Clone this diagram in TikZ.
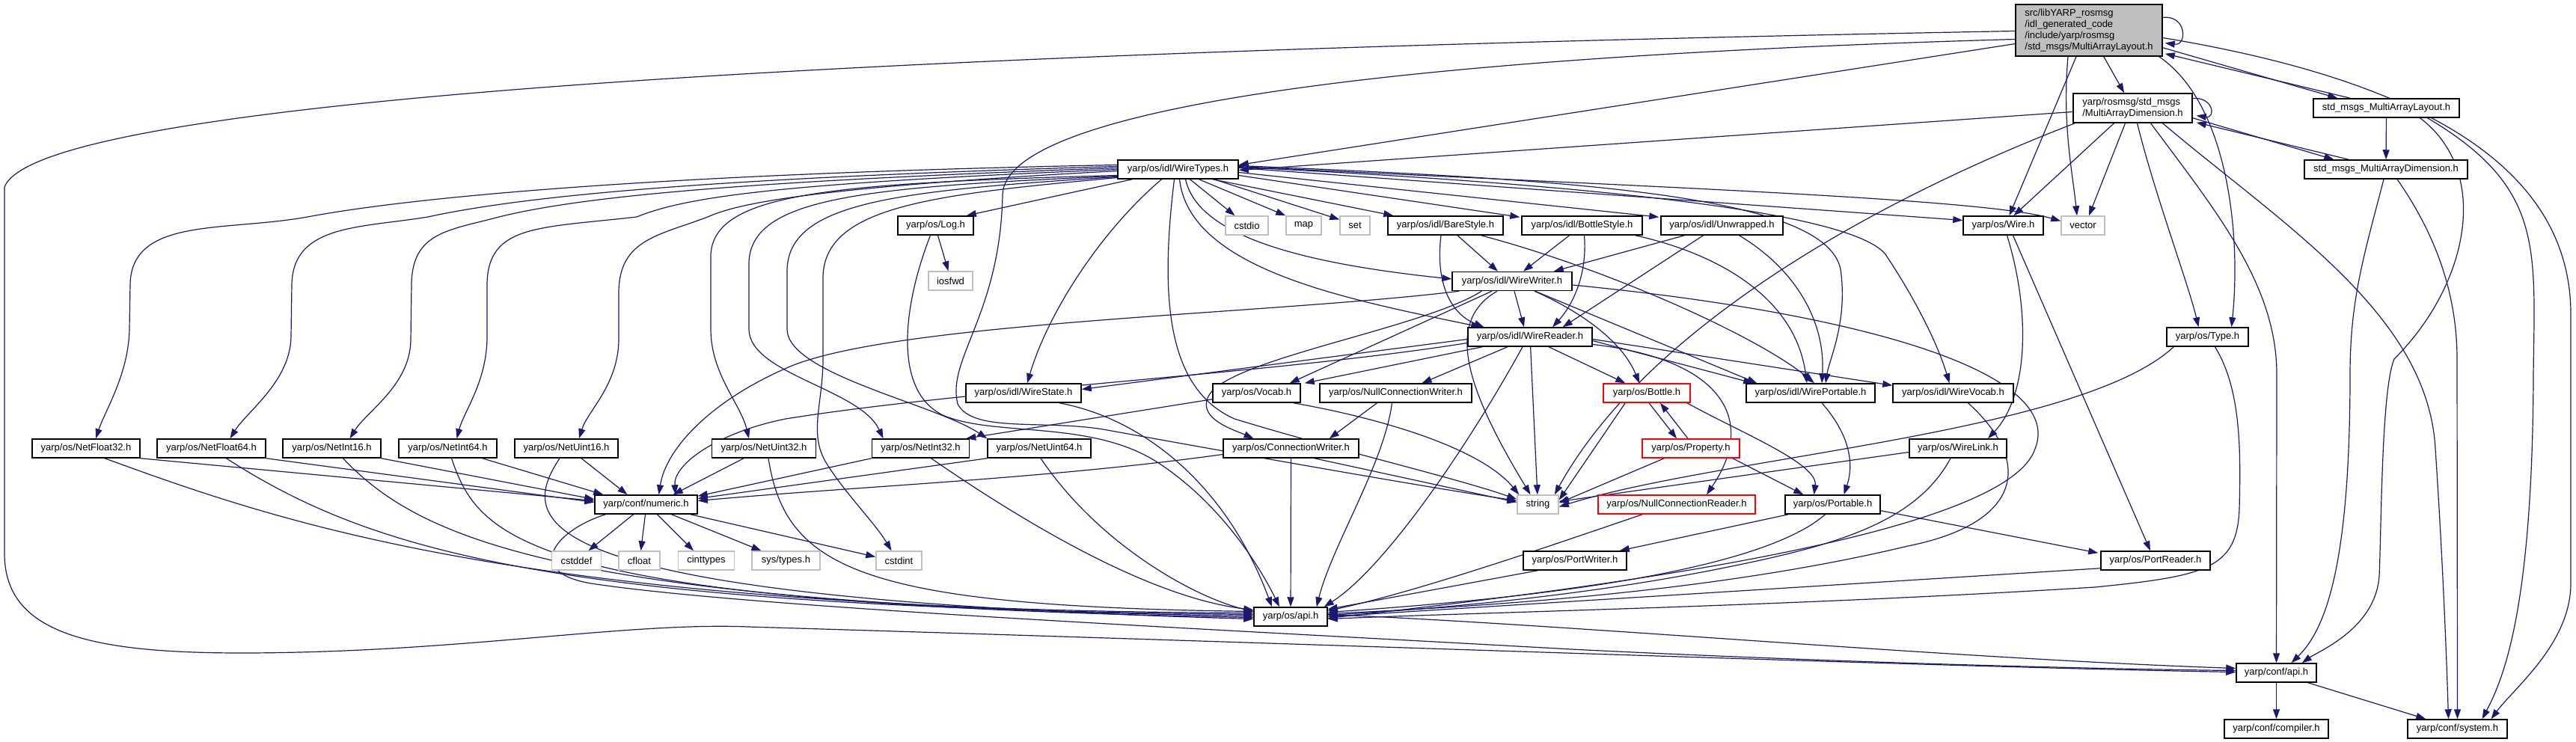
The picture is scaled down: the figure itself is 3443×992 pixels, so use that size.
\documentclass[tikz,border=0pt]{standalone}
\usepackage{fontspec}
\setmainfont{Liberation Sans}
\usetikzlibrary{arrows.meta,calc}
\definecolor{edgec}{HTML}{191970}
\definecolor{sysg}{HTML}{BFBFBF}
\definecolor{mainfill}{HTML}{BFBFBF}
\pgfdeclarelayer{bg}
\pgfsetlayers{bg,main}
\begin{document}
\begin{tikzpicture}[x=1pt,y=-1pt,
  box/.style={draw=black,line width=1.5pt,fill=white,minimum height=25pt,inner xsep=2pt,inner ysep=2pt,font=\fontsize{13pt}{15pt}\selectfont},
  sysbox/.style={box,draw=sysg},
  redbox/.style={box,draw=red},
  e/.style={draw=edgec,line width=1.2pt,-{Triangle[length=13pt,width=9pt]}}]
\useasboundingbox (0,0) rectangle (3443,992);
% ---------------- nodes ----------------
\node[box,fill=mainfill,minimum width=196pt,minimum height=69pt,align=left] (main) at (2792,40.5) {src/libYARP\_rosmsg\\/idl\_generated\_code\\/include/yarp/rosmsg\\/std\_msgs/MultiArrayLayout.h};
\node[box,minimum width=159pt,minimum height=39pt,align=left] (MAD) at (2850.5,144.5) {yarp/rosmsg/std\_msgs\\/MultiArrayDimension.h};
\node[box,minimum width=195pt] (SML) at (3189.5,144.5) {std\_msgs\_MultiArrayLayout.h};
\node[box,minimum width=218pt] (SMD) at (3189,226.5) {std\_msgs\_MultiArrayDimension.h};
\node[box,minimum width=161pt] (WireTypes) at (1574.5,226.5) {yarp/os/idl/WireTypes.h};
\node[box,minimum width=101pt] (Log) at (1250.5,301.5) {yarp/os/Log.h};
\node[sysbox,minimum width=57pt] (cstdio) at (1666.5,301.5) {cstdio};
\node[sysbox,minimum width=47pt] (map) at (1742.5,301.5) {map};
\node[sysbox,minimum width=40pt] (set) at (1811,301.5) {set};
\node[box,minimum width=154pt] (BareStyle) at (1932,301.5) {yarp/os/idl/BareStyle.h};
\node[box,minimum width=161pt] (BottleStyle) at (2114.5,301.5) {yarp/os/idl/BottleStyle.h};
\node[box,minimum width=163pt] (Unwrapped) at (2301.5,301.5) {yarp/os/idl/Unwrapped.h};
\node[box,minimum width=107pt] (Wire) at (2677.5,301.5) {yarp/os/Wire.h};
\node[sysbox,minimum width=58pt] (vector) at (2784,301.5) {vector};
\node[sysbox,minimum width=59pt] (iosfwd) at (1270.5,375.5) {iosfwd};
\node[box,minimum width=160pt] (WireWriter) at (2021,376) {yarp/os/idl/WireWriter.h};
\node[box,minimum width=166pt] (WireReader) at (2045,450.5) {yarp/os/idl/WireReader.h};
\node[box,minimum width=109pt] (Type) at (2950.5,450.5) {yarp/os/Type.h};
\node[box,minimum width=154pt] (WireState) at (1368,525.5) {yarp/os/idl/WireState.h};
\node[box,minimum width=117pt] (Vocab) at (1679.5,525.5) {yarp/os/Vocab.h};
\node[box,minimum width=203pt] (NCW) at (1865.5,525.5) {yarp/os/NullConnectionWriter.h};
\node[redbox,minimum width=116pt] (Bottle) at (2201,525.5) {yarp/os/Bottle.h};
\node[box,minimum width=172pt] (WirePortable) at (2420,525.5) {yarp/os/idl/WirePortable.h};
\node[box,minimum width=161pt] (WireVocab) at (2610.5,525.5) {yarp/os/idl/WireVocab.h};
\node[box,minimum width=144pt] (NetFloat32) at (115,599.5) {yarp/os/NetFloat32.h};
\node[box,minimum width=145pt] (NetFloat64) at (282.5,599.5) {yarp/os/NetFloat64.h};
\node[box,minimum width=131pt] (NetInt16) at (443.5,599.5) {yarp/os/NetInt16.h};
\node[box,minimum width=131pt] (NetInt64) at (598.5,599.5) {yarp/os/NetInt64.h};
\node[box,minimum width=138pt] (NetUint16) at (757,599.5) {yarp/os/NetUint16.h};
\node[box,minimum width=139pt] (NetUint32) at (1021,599.5) {yarp/os/NetUint32.h};
\node[box,minimum width=130pt] (NetInt32) at (1230.5,599.5) {yarp/os/NetInt32.h};
\node[box,minimum width=138pt] (NetUint64) at (1389,599.5) {yarp/os/NetUint64.h};
\node[box,minimum width=181pt] (ConnWriter) at (1725.5,599.5) {yarp/os/ConnectionWriter.h};
\node[redbox,minimum width=130pt] (Property) at (2260,599.5) {yarp/os/Property.h};
\node[box,minimum width=130pt] (WireLink) at (2617,599.5) {yarp/os/WireLink.h};
\node[box,minimum width=137pt] (numeric) at (863.5,674.5) {yarp/conf/numeric.h};
\node[sysbox,minimum width=55pt] (string) at (2055.5,674.5) {string};
\node[redbox,minimum width=210pt] (NCR) at (2241,674.5) {yarp/os/NullConnectionReader.h};
\node[box,minimum width=127pt] (Portable) at (2449.5,674.5) {yarp/os/Portable.h};
\node[sysbox,minimum width=66pt] (cstddef) at (770.5,749.5) {cstddef};
\node[sysbox,minimum width=55pt] (cfloat) at (854.5,749.5) {cfloat};
\node[sysbox,minimum width=75pt] (cinttypes) at (944,749.5) {cinttypes};
\node[sysbox,minimum width=91pt] (systypes) at (1050.5,749.5) {sys/types.h};
\node[sysbox,minimum width=61pt] (cstdint) at (1201.5,749.5) {cstdint};
\node[box,minimum width=138pt] (PortWriter) at (2105,749.5) {yarp/os/PortWriter.h};
\node[box,minimum width=146pt] (PortReader) at (2881,749.5) {yarp/os/PortReader.h};
\node[box,minimum width=98pt] (osapi) at (1725,824.5) {yarp/os/api.h};
\node[box,minimum width=107pt] (confapi) at (3042.5,899.5) {yarp/conf/api.h};
\node[box,minimum width=139pt] (compiler) at (3042.5,974.5) {yarp/conf/compiler.h};
\node[box,minimum width=133pt] (system) at (3284.5,974.5) {yarp/conf/system.h};
% ---------------- edges ----------------
\begin{pgfonlayer}{bg}
\fill[white] (0,0) rectangle (3443,992);
% main
\draw[e] ($(main.east)+(0,-17)$) .. controls +(32,-4) and +(30,4) .. ($(main.east)+(3,17)$);
\draw[e] (main) -- (MAD);
\draw[e] ($(main.west)+(0,18)$) -- ($(WireTypes.east)+(0,-6)$);
\draw[e] ($(main.south)+(-17,0)$) -- ($(Wire.north)+(8,0)$);
\draw[e] ($(main.south)+(-28,0)$) .. controls (2756,165) and (2770,230) .. ($(vector.north)+(-8,0)$);
\draw[e] ($(main.south east)+(-5,0)$) .. controls (2980,140) and (2995,320) .. ($(Type.north)+(32,0)$);
\draw[e] ($(main.south east)+(0,-12)$) -- ($(SML.north west)+(33,0)$);
\draw[e] ($(SML.north west)+(50,0)$) -- ($(main.south east)+(3,-4)$);
\draw[e] ($(main.east)+(0,10)$) .. controls (3250,110) and (3436,230) .. (3436,420) -- (3436,780) .. controls (3436,860) and (3360,920) .. ($(system.north)+(45,0)$);
\draw[e] ($(main.west)+(0,1)$) .. controls (1600,62) and (60,110) .. (6,250) -- (6,740) .. controls (6,860) and (150,878) .. (400,872) .. controls (650,866) and (850,832) .. (1000,838) .. controls (1800,862) and (2600,892) .. ($(confapi.west)+(0,-1)$);
\draw[e] ($(main.west)+(0,12)$) .. controls (1900,75) and (1345,140) .. (1340,260) .. controls (1337,420) and (1265,480) .. (1280,540) .. controls (1300,580) and (1400,560) .. (1480,575) .. controls (1700,615) and (1900,650) .. ($(string.west)+(0,-5)$);
% MultiArrayDimension
\draw[e] ($(MAD.east)+(0,-13)$) .. controls +(28,-2) and +(26,4) .. ($(MAD.east)+(5,10)$);
\draw[e] ($(MAD.west)+(0,5)$) -- ($(WireTypes.east)+(0,1)$);
\draw[e] ($(MAD.south)+(-25,0)$) -- ($(Wire.north)+(14,0)$);
\draw[e] ($(MAD.south)+(-10,0)$) -- ($(vector.north)+(8,0)$);
\draw[e] ($(MAD.south)+(6,0)$) .. controls (2880,260) and (2925,380) .. ($(Type.north)+(-12,0)$);
\draw[e] ($(MAD.south)+(24,0)$) .. controls (2960,280) and (3043,380) .. (3043,500) -- (confapi);
\draw[e] ($(MAD.south)+(40,0)$) .. controls (3050,300) and (3245,420) .. (3255,600) .. controls (3265,750) and (3270,880) .. ($(system.north)+(-12,0)$);
\draw[e] ($(MAD.south east)+(0,-7)$) -- ($(SMD.north west)+(40,0)$);
\draw[e] ($(SMD.north west)+(60,0)$) -- ($(MAD.south east)+(5,-1)$);
\draw[e] ($(MAD.south west)+(3,0)$) .. controls (2500,270) and (2200,440) .. ($(string.north east)+(-6,0)$);
% std_msgs_*
\draw[e] (SML) -- (SMD);
\draw[e] ($(SML.south)+(45,0)$) .. controls (3330,230) and (3300,380) .. (3200,480) .. controls (3183,520) and (3183,700) .. (3180,770) .. controls (3175,840) and (3100,870) .. ($(confapi.north east)+(-20,0)$);
\draw[e] ($(SML.south)+(55,0)$) .. controls (3400,250) and (3388,330) .. (3386,500) .. controls (3385,800) and (3350,900) .. ($(system.north)+(33,0)$);
\draw[e] ($(SMD.south)+(-3,0)$) .. controls (3160,340) and (3141,400) .. (3141,500) .. controls (3141,750) and (3110,840) .. ($(confapi.north)+(20,0)$);
\draw[e] ($(SMD.south)+(15,0)$) .. controls (3260,320) and (3284,400) .. (3284,480) -- (system);
% WireTypes
\draw[e] ($(WireTypes.west)+(0,-6)$) .. controls (900,232) and (560,262) .. (411,290) .. controls (300,310) and (176,290) .. (174,380) -- (173,440) .. controls (172,500) and (140,550) .. ($(NetFloat32.north)+(13,0)$);
\draw[e] ($(WireTypes.west)+(0,-4)$) .. controls (950,238) and (700,262) .. (572,290) .. controls (480,305) and (392,300) .. (390,380) -- (389,450) .. controls (388,510) and (330,550) .. ($(NetFloat64.north)+(25,0)$);
\draw[e] ($(WireTypes.west)+(0,-2)$) .. controls (1000,242) and (780,262) .. (667,290) .. controls (600,308) and (551,310) .. (550,380) -- (549,455) .. controls (548,515) and (490,550) .. ($(NetInt16.north)+(24,0)$);
\draw[e] ($(WireTypes.west)+(0,0)$) .. controls (1050,245) and (920,262) .. (851,290) .. controls (720,305) and (652,300) .. (651,380) -- (651,450) .. controls (651,510) and (620,550) .. ($(NetInt64.north)+(12,0)$);
\draw[e] ($(WireTypes.west)+(0,2)$) .. controls (1100,250) and (990,270) .. (946,290) .. controls (880,315) and (828,320) .. (827,390) -- (827,455) .. controls (826,515) and (785,550) .. ($(NetUint16.north)+(17,0)$);
\draw[e] ($(WireTypes.west)+(0,8)$) .. controls (1100,245) and (955,260) .. (950,340) -- (950,440) .. controls (950,500) and (990,540) .. ($(NetUint32.north)+(-20,0)$);
\draw[e] ($(WireTypes.west)+(0,9)$) .. controls (1150,250) and (1005,265) .. (1001,350) -- (1001,440) .. controls (1001,500) and (1150,520) .. ($(NetInt32.north)+(-50,0)$);
\draw[e] ($(WireTypes.west)+(0,10)$) .. controls (1200,255) and (1055,270) .. (1052,360) -- (1052,440) .. controls (1052,500) and (1250,540) .. (NetUint64.north west);
\draw[e] ($(WireTypes.west)+(0,11)$) .. controls (1250,260) and (1102,275) .. (1100,370) -- (1100,480) .. controls (1100,540) and (1080,580) .. (1105,620) .. controls (1130,660) and (1170,700) .. ($(cstdint.north)+(-10,0)$);
\draw[e] ($(WireTypes.south west)+(20,0)$) -- ($(Log.north east)+(-10,0)$);
\draw[e] ($(WireTypes.south)+(16,0)$) -- ($(cstdio.north)+(-16,0)$);
\draw[e] ($(WireTypes.south)+(28,0)$) -- (map.north west);
\draw[e] ($(WireTypes.south)+(48,0)$) -- ($(set.west)+(0,-8)$);
\draw[e] ($(WireTypes.south east)+(-35,0)$) -- ($(BareStyle.north west)+(8,0)$);
\draw[e] ($(WireTypes.east)+(0,8)$) -- ($(BottleStyle.north west)+(-2,2)$);
\draw[e] ($(WireTypes.east)+(0,4)$) -- ($(Unwrapped.north west)+(-2,2)$);
\draw[e] ($(WireTypes.east)+(0,-2)$) -- ($(Wire.west)+(0,-7)$);
\draw[e] ($(WireTypes.east)+(0,-4)$) .. controls (2200,250) and (2650,265) .. ($(vector.west)+(0,-6)$);
\draw[e] ($(WireTypes.south)+(10,0)$) .. controls (1600,310) and (1720,350) .. ($(WireWriter.west)+(0,-3)$);
\draw[e] ($(WireTypes.south)+(2,0)$) .. controls (1590,360) and (1800,400) .. ($(WireReader.north west)+(18,0)$);
\draw[e] ($(WireTypes.south)+(-22,0)$) .. controls (1470,310) and (1400,420) .. ($(WireState.north)+(5,0)$);
\draw[e] ($(WireTypes.south)+(-5,0)$) .. controls (1550,400) and (1560,520) .. (1650,560) .. controls (1780,600) and (1950,640) .. ($(string.west)+(0,-7)$);
\draw[e] ($(WireTypes.east)+(0,-5)$) .. controls (2100,240) and (2440,260) .. (2460,360) .. controls (2470,430) and (2445,480) .. ($(WirePortable.north)+(20,0)$);
\draw[e] ($(WireTypes.east)+(0,-3)$) .. controls (2200,250) and (2480,290) .. (2520,340) .. controls (2560,400) and (2590,460) .. ($(WireVocab.north)+(-5,0)$);
% Log
\draw[e] ($(Log.south)+(3,0)$) -- ($(iosfwd.north)+(-3,0)$);
\draw[e] ($(Log.south)+(-7,0)$) .. controls (1210,400) and (1190,520) .. (1260,555) .. controls (1330,585) and (1460,560) .. (1550,620) .. controls (1640,680) and (1690,770) .. ($(osapi.north)+(-15,0)$);
% styles
\draw[e] ($(BareStyle.south)+(16,0)$) -- ($(WireWriter.north)+(-19,0)$);
\draw[e] ($(BareStyle.south)+(-6,0)$) .. controls (1918,380) and (1940,420) .. ($(WireReader.north west)+(22,0)$);
\draw[e] ($(BareStyle.south east)+(-30,0)$) .. controls (2150,360) and (2350,450) .. ($(WirePortable.north)+(5,0)$);
\draw[e] ($(BottleStyle.south)+(-17,0)$) -- ($(WireWriter.north)+(15,0)$);
\draw[e] ($(BottleStyle.south)+(3,0)$) .. controls (2122,370) and (2100,410) .. ($(WireReader.north)+(30,0)$);
\draw[e] ($(BottleStyle.south east)+(-10,0)$) .. controls (2300,340) and (2400,400) .. ($(WirePortable.north)+(-5,0)$);
\draw[e] ($(Unwrapped.south)+(-50,0)$) -- ($(WireWriter.north east)+(-25,0)$);
\draw[e] ($(Unwrapped.south)+(-25,0)$) -- ($(WireReader.north east)+(-40,0)$);
\draw[e] ($(Unwrapped.south)+(23,0)$) .. controls (2400,360) and (2440,430) .. ($(WirePortable.north)+(15,0)$);
% WireWriter
\draw[e] ($(WireWriter.south)+(3,0)$) -- ($(WireReader.north)+(-8,0)$);
\draw[e] ($(WireWriter.south west)+(10,0)$) .. controls (1700,420) and (1200,430) .. (1056,490) .. controls (950,535) and (890,600) .. ($(numeric.north)+(17,0)$);
\draw[e] ($(WireWriter.south)+(-27,0)$) -- ($(Vocab.north east)+(-15,0)$);
\draw[e] ($(WireWriter.south)+(-20,0)$) .. controls (1930,430) and (1960,520) .. ($(string.north)+(-10,0)$);
\draw[e] ($(WireWriter.south west)+(40,0)$) .. controls (1900,440) and (1640,480) .. (1615,530) .. controls (1600,560) and (1650,575) .. ($(ConnWriter.north)+(-50,0)$);
\draw[e] ($(WireWriter.south east)+(-50,0)$) -- ($(WirePortable.north west)+(15,0)$);
\draw[e] ($(WireWriter.south)+(30,0)$) .. controls (2120,420) and (2170,460) .. ($(Bottle.north)+(-10,0)$);
\draw[e] ($(WireWriter.east)+(0,5)$) .. controls (2500,420) and (2760,500) .. (2720,600) .. controls (2680,720) and (2100,790) .. ($(osapi.east)+(0,2)$);
% WireReader
\draw[e] ($(WireReader.west)+(0,3)$) -- ($(WireState.east)+(0,-5)$);
\draw[e] ($(WireReader.south west)+(20,0)$) -- ($(Vocab.north east)+(5,0)$);
\draw[e] ($(WireReader.south)+(-30,0)$) -- ($(NCW.north)+(35,0)$);
\draw[e] ($(WireReader.south)+(25,0)$) -- ($(Bottle.north west)+(30,0)$);
\draw[e] ($(WireReader.east)+(0,5)$) -- ($(WirePortable.north west)+(10,0)$);
\draw[e] ($(WireReader.east)+(0,3)$) -- ($(WireVocab.north west)+(0,3)$);
\draw[e] (WireReader) -- (string);
\draw[e] ($(WireReader.west)+(0,8)$) .. controls (1700,500) and (1300,520) .. (1050,560) .. controls (960,578) and (900,620) .. ($(numeric.north east)+(-30,0)$);
\draw[e] ($(WireReader.south)+(-10,0)$) .. controls (1960,600) and (1850,760) .. ($(osapi.north east)+(-5,0)$);
\draw[e] ($(WireReader.east)+(0,10)$) .. controls (2300,480) and (2350,560) .. ($(NCR.north)+(40,0)$);
% middle
\draw[e] ($(WireState.south east)+(-30,0)$) .. controls (1530,560) and (1640,650) .. ($(osapi.north)+(-25,0)$);
\draw[e] ($(Vocab.south west)+(0,-5)$) -- ($(NetInt32.north east)+(-5,0)$);
\draw[e] ($(Vocab.south east)+(-10,0)$) .. controls (1850,560) and (1980,600) .. ($(string.north west)+(3,0)$);
\draw[e] ($(NCW.south)+(-25,0)$) -- ($(ConnWriter.north east)+(-40,0)$);
\draw[e] ($(NCW.south)+(-5,0)$) .. controls (1850,620) and (1780,730) .. ($(osapi.north east)+(-15,0)$);
\draw[e] (ConnWriter) -- (osapi);
\draw[e] ($(ConnWriter.south east)+(-60,0)$) -- ($(string.west)+(0,-3)$);
\draw[e] ($(ConnWriter.west)+(0,8)$) .. controls (1400,640) and (1150,650) .. ($(numeric.east)+(0,-5)$);
\draw[e] ($(Bottle.south)+(3,0)$) -- ($(Property.north)+(-19,0)$);
\draw[e] ($(Property.north)+(-4,0)$) -- ($(Bottle.south)+(18,0)$);
\draw[e] ($(Bottle.south west)+(30,0)$) -- ($(string.east)+(0,-6)$);
\draw[e] ($(Bottle.south east)+(-5,0)$) .. controls (2330,580) and (2430,620) .. ($(Portable.north)+(-25,0)$);
\draw[e] ($(Property.south west)+(30,0)$) -- ($(string.east)+(0,-2)$);
\draw[e] ($(Property.south east)+(-10,0)$) -- ($(Portable.north west)+(25,0)$);
\draw[e] ($(WirePortable.south)+(15,0)$) .. controls (2480,590) and (2475,630) .. ($(Portable.north)+(15,0)$);
\draw[e] ($(WireVocab.south)+(20,0)$) .. controls (2720,620) and (2700,700) .. (2550,730) .. controls (2300,790) and (2000,810) .. ($(osapi.east)+(0,-4)$);
\draw[e] ($(Wire.south)+(5,0)$) .. controls (2715,420) and (2710,530) .. ($(WireLink.north)+(40,0)$);
\draw[e] ($(Wire.south)+(13,0)$) -- ($(PortReader.north)+(-7,0)$);
\draw[e] ($(Type.south west)+(10,0)$) .. controls (2780,580) and (2300,610) .. ($(string.east)+(0,3)$);
\draw[e] ($(Type.south)+(10,0)$) .. controls (2995,520) and (2995,600) .. (2993,680) .. controls (2990,760) and (2950,770) .. (2800,785) .. controls (2400,810) and (2000,818) .. ($(osapi.east)+(0,3)$);
\draw[e] ($(WireLink.west)+(0,5)$) -- ($(string.east)+(0,-4)$);
\draw[e] ($(WireLink.south)+(-10,0)$) .. controls (2560,700) and (2450,730) .. (2300,760) .. controls (2100,800) and (1900,815) .. ($(osapi.east)+(0,-2)$);
\draw[e] ($(NCR.south west)+(60,0)$) .. controls (2100,720) and (1900,790) .. ($(osapi.east)+(0,-8)$);
\draw[e] ($(Portable.south west)+(5,0)$) -- ($(PortWriter.north east)+(-10,0)$);
\draw[e] ($(Portable.south east)+(0,-5)$) -- ($(PortReader.north west)+(-3,3)$);
\draw[e] ($(Portable.south)+(-10,0)$) .. controls (2380,740) and (2200,790) .. ($(osapi.east)+(0,-6)$);
\draw[e] ($(PortWriter.south west)+(20,0)$) -- ($(osapi.east)+(0,-10)$);
\draw[e] ($(PortReader.south west)+(0,-3)$) -- ($(osapi.east)+(0,0)$);
% Net* -> numeric
\draw[e] (NetFloat32.south east) -- ($(numeric.west)+(0,-5)$);
\draw[e] (NetFloat64.south east) -- ($(numeric.west)+(0,-3)$);
\draw[e] (NetInt16.south east) -- ($(numeric.west)+(0,-7)$);
\draw[e] ($(NetInt64.south east)+(-20,0)$) -- ($(numeric.north west)+(12,0)$);
\draw[e] ($(NetUint16.south)+(20,0)$) -- ($(numeric.north)+(-25,0)$);
\draw[e] ($(NetUint32.south)+(-27,0)$) -- ($(numeric.north east)+(-33,0)$);
\draw[e] (NetInt32.south west) -- ($(numeric.north east)+(0,2)$);
\draw[e] (NetUint64.south west) -- ($(numeric.east)+(0,-8)$);
% Net* -> os/api.h
\draw[e] ($(NetFloat32.south)+(25,0)$) .. controls (380,700) and (700,815) .. ($(osapi.west)+(0,-5)$);
\draw[e] ($(NetFloat64.south)+(20,0)$) .. controls (500,740) and (750,812) .. ($(osapi.west)+(0,-3)$);
\draw[e] ($(NetInt16.south)+(15,0)$) .. controls (560,720) and (750,810) .. ($(osapi.west)+(0,-1)$);
\draw[e] ($(NetInt64.south)+(5,0)$) .. controls (640,720) and (700,808) .. ($(osapi.west)+(0,1)$);
\draw[e] ($(NetUint16.south)+(-9,0)$) .. controls (690,700) and (700,800) .. ($(osapi.west)+(0,3)$);
\draw[e] ($(NetUint32.south)+(6,0)$) .. controls (1050,760) and (1150,810) .. ($(osapi.west)+(0,-7)$);
\draw[e] ($(NetInt32.south)+(14,0)$) .. controls (1400,720) and (1550,800) .. ($(osapi.west)+(0,-9)$);
\draw[e] ($(NetUint64.south)+(2,0)$) .. controls (1470,730) and (1600,800) .. ($(osapi.north west)+(0,6)$);
% numeric
\draw[e] ($(numeric.south)+(-17,0)$) -- ($(cstddef.north)+(16,0)$);
\draw[e] ($(numeric.south)+(-1,0)$) -- ($(cfloat.north)+(2,0)$);
\draw[e] ($(numeric.south)+(15,0)$) -- ($(cinttypes.north)+(-17,0)$);
\draw[e] ($(numeric.south)+(34,0)$) -- ($(systypes.north)+(-33,0)$);
\draw[e] ($(numeric.south east)+(-10,0)$) -- ($(cstdint.west)+(0,-5)$);
\draw[e] ($(numeric.south west)+(15,0)$) .. controls (740,710) and (700,765) .. (790,780) .. controls (1000,812) and (1600,840) .. (2100,868) .. controls (2500,888) and (2850,895) .. ($(confapi.west)+(0,-3)$);
% api
\draw[e] ($(osapi.east)+(0,-3)$) .. controls (2100,835) and (2600,880) .. ($(confapi.west)+(0,-6)$);
\draw[e] (confapi) -- (compiler);
\draw[e] ($(confapi.south east)+(-12,0)$) -- ($(system.north west)+(25,0)$);
\end{pgfonlayer}
\end{tikzpicture}
\end{document}
